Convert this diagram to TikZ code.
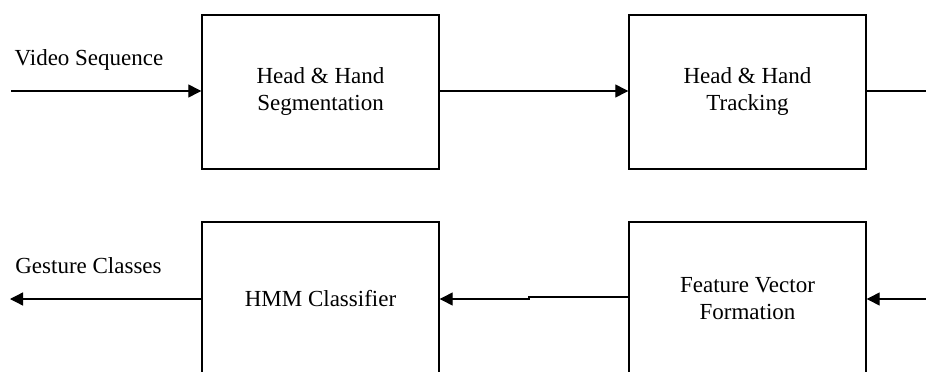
\documentclass[tikz,border=0pt]{standalone}
\usepackage{fontspec}
\setmainfont{Liberation Serif}
\usetikzlibrary{arrows.meta}
\begin{document}
\begin{tikzpicture}[x=1pt,y=-1pt,
  stage/.style={draw, line width=1.4pt, minimum width=237pt, minimum height=154pt,
    inner sep=0pt, align=center, font=\fontsize{23}{27}\selectfont},
  label/.style={inner sep=0pt, font=\fontsize{23}{27}\selectfont},
  flow/.style={line width=1.3pt},
  arr/.style={flow, -{Triangle[length=13pt,width=13pt]}}]
\clip (0,0) rectangle (926,372);
\useasboundingbox (0,0) rectangle (926,372);
\fill[white] (0,0) rectangle (926,372);

% processing stages
\node[stage] (seg)  at (320.5,92)  {Head \& Hand\\Segmentation};
\node[stage] (trk)  at (747.5,92)  {Head \& Hand\\Tracking};
\node[stage] (hmm)  at (320.5,299) {HMM Classifier};
\node[stage] (feat) at (747.5,299) {Feature Vector\\Formation};

% input / output labels
\node[label] (vin)  at (89,60)  {Video Sequence};
\node[label] (gout) at (88.5,266) {Gesture Classes};

% free ends of the connectors
\coordinate (src)   at (11,91);
\coordinate (trkout) at (926,91);
\coordinate (featin) at (926,299);
\coordinate (sink)  at (10,299);
\coordinate (jog)   at (529,297);

\draw[arr] (src) -- (seg.west |- src);
\draw[arr] (seg.east |- src) -- (trk.west |- src);
\draw[flow] (trk.east |- trkout) -- (trkout);
\draw[arr] (featin) -- (feat.east);
\draw[arr] (feat.west |- jog) -- (jog) -- (jog |- hmm.east) -- (hmm.east);
\draw[arr] (hmm.west) -- (sink);
\end{tikzpicture}
\end{document}
